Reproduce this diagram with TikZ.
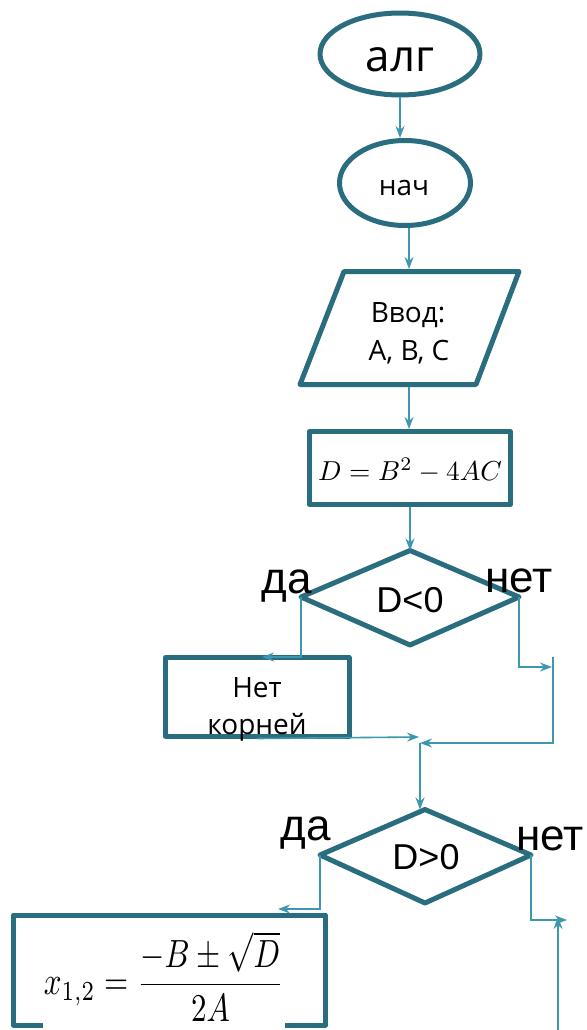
\documentclass[tikz,border=0pt]{standalone}
\usepackage{graphicx}
\usepackage{fontspec}
\setmainfont{Open Sans}
\newfontfamily\arialf{Liberation Sans}
\usetikzlibrary{arrows.meta,shapes.geometric}
\definecolor{bord}{HTML}{2A6D7F}
\definecolor{conn}{HTML}{3C97AF}
\begin{document}
\begin{tikzpicture}[x=1pt,y=-1pt,
  shp/.style={draw=bord,line width=5pt,fill=white,line join=round},
  cn/.style={draw=conn,line width=1.6pt},
  arr/.style={cn,-{Stealth[length=12pt,width=9pt,inset=4pt]}},
  otxt/.style={font=\fontsize{28}{30}\selectfont,anchor=base,inner sep=0},
  atxt/.style={font=\arialf\fontsize{36}{38}\selectfont,anchor=base,inner sep=0},
  ltxt/.style={font=\arialf\fontsize{44}{46}\selectfont,anchor=base,inner sep=0},
]
\useasboundingbox[fill=white] (0,0) rectangle (586,1030);

% ---- shapes ----
\node[shp,ellipse,minimum width=160pt,minimum height=82pt,inner sep=0] (alg) at (400,54) {};
\node[font=\fontsize{44}{46}\selectfont,anchor=base,inner sep=0] (algt) at (400,72) {алг};

\node[shp,ellipse,minimum width=131pt,minimum height=85pt,inner sep=0] (nach) at (405,183) {};
\node[otxt] (nacht) at (404,195) {нач};

\coordinate (p1) at (344,271.5);
\coordinate (p2) at (519,271.5);
\coordinate (p3) at (476,384.5);
\coordinate (p4) at (300,384.5);
\draw[shp] (p1) -- (p2) -- (p3) -- (p4) -- cycle;
\node[otxt] (in1) at (408,322) {Ввод:};
\node[otxt] (in2) at (409,360) {A, B, C};
\coordinate (inT) at (409,269);
\coordinate (inB) at (409,387);

\node[shp,rectangle,minimum width=201pt,minimum height=73pt,inner sep=0] (Dbox) at (410,468) {};
\node[inner sep=0] (Dtx) at (410,470)
  {\resizebox{184pt}{!}{$D = B^2 - 4AC$}};

\coordinate (d1t) at (410,550.5);
\coordinate (d1l) at (301,597);
\coordinate (d1r) at (519,597);
\coordinate (d1b) at (410,645);
\draw[shp] (d1t) -- (d1r) -- (d1b) -- (d1l) -- cycle;
\node[atxt] (c1t) at (410,612) {D<0};
\node[ltxt] (da1) at (287,593) {да};
\node[ltxt] (net1) at (519,592) {нет};

\node[shp,rectangle,minimum width=183.5pt,minimum height=78.5pt,inner sep=0] (nk) at (257.25,696.75) {};
\node[otxt] (nk1) at (257,697) {Нет};
\node[otxt] (nk2) at (257,734) {корней};

\coordinate (d2t) at (425,809.5);
\coordinate (d2l) at (320,855);
\coordinate (d2r) at (531,855);
\coordinate (d2b) at (425,903);
\draw[shp] (d2t) -- (d2r) -- (d2b) -- (d2l) -- cycle;
\node[atxt] (c2t) at (426,869) {D>0};
\node[ltxt] (da2) at (306,840) {да};
\node[ltxt] (net2) at (550,850) {нет};

\node[shp,rectangle,minimum width=312pt,minimum height=110pt,inner sep=0] (fb) at (169.5,970) {};
\node[fill=white,minimum width=242pt,minimum height=107pt,inner sep=0] (fx) at (164,976.5)
  {\resizebox*{240pt}{90pt}{$\displaystyle x_{1,2} = \frac{-B \pm \sqrt{D}}{2A}$}};

% ---- connector points ----
\coordinate (a1) at (262,657);
\coordinate (b1) at (552,667);
\coordinate (m1) at (553,657);
\coordinate (j1) at (420,743);
\coordinate (j0) at (419,737);
\coordinate (a2) at (278,909);
\coordinate (b2) at (567,920);
\coordinate (m2) at (558,1032);
\coordinate (b2t) at (558,917);

% ---- connectors ----
\draw[arr] (alg.south) -- (alg.south |- nach.north);
\draw[arr] (nach.south -| inT) -- (inT);
\draw[arr] (inB) -- (inB |- Dbox.north);
\draw[arr] (Dbox.south) -- (d1t);
\draw[arr] (d1l) -- (d1l |- a1) -- (a1);
\draw[arr] (d1r) -- (d1r |- b1) -- (b1);
\draw[arr] (m1) -- (m1 |- j1) -- (j1);
\draw[arr] (nk.south) -- (j0);
\draw[arr] (j1) -- (j1 |- d2t);
\draw[arr] (d2l) -- (d2l |- a2) -- (a2);
\draw[arr] (d2r) -- (d2r |- b2) -- (b2);
\draw[arr] (m2) -- (b2t);
\end{tikzpicture}
\end{document}
